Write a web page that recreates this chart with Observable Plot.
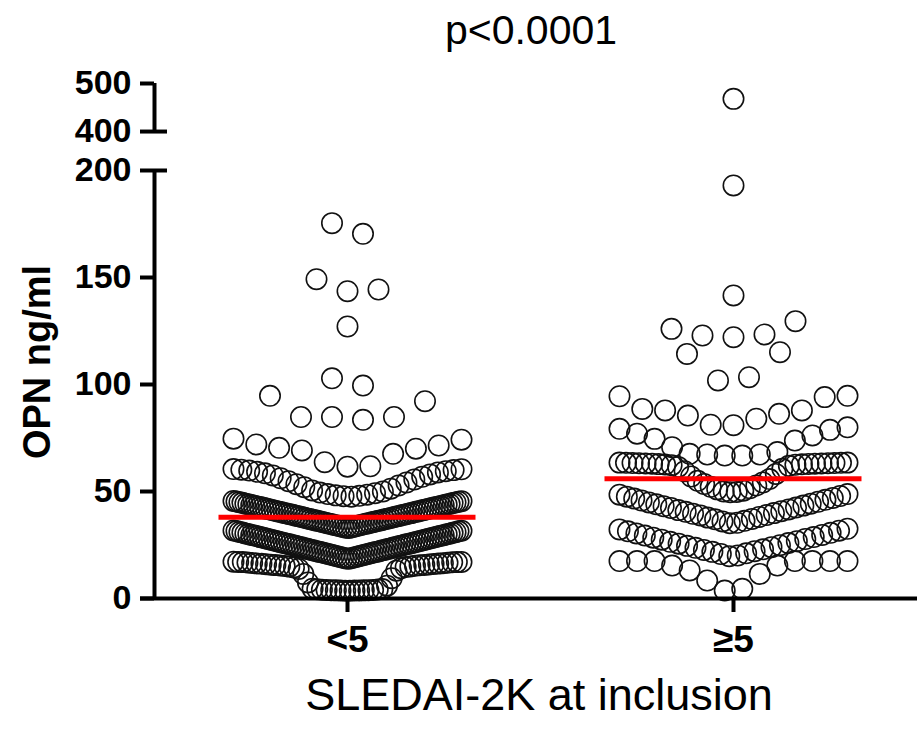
<!DOCTYPE html>
<html>
<head>
<meta charset="utf-8">
<script src="https://cdn.jsdelivr.net/npm/d3@7"></script>
<script src="https://cdn.jsdelivr.net/npm/@observablehq/plot@0.6"></script>
<style>
  html, body { margin: 0; padding: 0; background: #fff; }
</style>
</head>
<body>
<div id="chart"></div>
<script>
// ---------------- data ----------------
const groups = ["<5", "\u22655"];

// OPN ng/ml, SLEDAI-2K < 5
const lowSledai = [
  175.4, 170.4, 149.2, 144.4, 143.6, 127.1, 102.9, 99.5, 94.7, 92.2, 84.8, 84.8, 84.8, 83.5,
  74.7, 74.2, 72.0, 71.5, 70.4, 70.0, 69.2, 67.6, 63.7, 61.8, 61.6,
  60.5, 60.4, 60.2, 60.0, 59.8, 59.5, 59.2, 58.9, 58.5, 58.0, 57.5, 56.9, 56.2, 55.6, 54.8,
  54.2, 53.4, 52.8, 52.0, 51.3, 50.5, 50.0, 49.5, 49.2, 48.8, 48.5, 48.2, 48.0, 47.8, 47.6,
  33.0, 33.1, 33.3, 33.4, 33.7, 33.8, 34.0, 34.1, 34.3, 34.4, 34.7, 34.8, 35.0, 35.1,
  35.3, 35.4, 35.7, 35.8, 36.0, 36.1, 36.3, 36.4, 36.6, 36.7, 37.0, 37.1, 37.3, 37.4,
  37.6, 37.7, 38.0, 38.1, 38.3, 38.4, 38.6, 38.7, 39.0, 39.1, 39.3, 39.4, 39.6, 39.7,
  39.9, 40.0, 40.3, 40.4, 40.6, 40.7, 40.9, 41.0, 41.3, 41.4, 41.6, 41.7, 41.9, 42.0,
  42.3, 42.4, 42.6, 42.7, 42.9, 43.0, 43.2, 43.3, 43.6, 43.7, 43.9, 44.0, 44.2, 44.3,
  44.6, 44.7, 44.9, 45.0, 45.2, 45.3, 45.5, 45.6,
  18.6, 18.7, 18.9, 19.0, 19.3, 19.4, 19.6, 19.7, 20.0, 20.1, 20.3, 20.4, 20.7, 20.8,
  21.0, 21.1, 21.4, 21.5, 21.7, 21.8, 22.0, 22.1, 22.4, 22.5, 22.7, 22.8, 23.1, 23.2,
  23.4, 23.5, 23.8, 23.9, 24.1, 24.2, 24.5, 24.6, 24.8, 24.9, 25.2, 25.3, 25.5, 25.6,
  25.8, 25.9, 26.2, 26.3, 26.5, 26.6, 26.9, 27.0, 27.2, 27.3, 27.6, 27.7, 27.9, 28.0,
  28.3, 28.4, 28.6, 28.7, 29.0, 29.1, 29.3, 29.4, 29.6, 29.7, 30.0, 30.1, 30.3, 30.4,
  30.7, 30.8, 31.0, 31.1, 31.4, 31.5, 31.7, 31.8,
  17.2, 17.1, 17.1, 17.0, 17.0, 16.9, 16.8, 16.7, 16.6, 16.5, 16.4, 16.3, 16.2, 16.1, 16.0, 15.9,
  15.8, 15.7, 15.6, 15.5, 15.4, 15.3, 15.2, 15.0, 14.9, 14.7, 14.5, 14.2, 13.8, 13.0, 11.5, 9.5,
  7.5, 6.0, 4.6, 4.4, 4.3, 4.2, 4.1, 4.0, 4.0, 3.9, 3.9, 3.8, 3.8, 3.7, 3.7, 3.7, 3.6, 3.6
];

// OPN ng/ml, SLEDAI-2K >= 5
const highSledai = [
  468, 193, 141.6, 129.6, 126.0, 123.4, 122.9, 122.1, 115.1, 114.3, 103.4, 101.9,
  94.7, 94.5, 94.1, 88.6, 87.9, 87.9, 86.3, 85.5, 84.0, 81.2, 81.0,
  80.0, 79.3, 78.8, 77.0, 76.2, 74.6, 73.8, 70.7, 68.4, 67.6, 67.3, 67.3, 66.8, 66.8,
  63.5, 63.5, 63.4, 63.4, 63.3, 63.3, 63.2, 63.2, 63.1, 63.1, 63.0, 63.0, 62.9, 62.8, 62.7, 62.6,
  62.5, 62.3, 62.0, 61.5, 60.6, 59.5, 58.2, 57.0, 55.8, 55.0, 54.2, 53.5, 52.8, 52.2, 51.5, 51.0,
  50.4, 50.0, 49.8, 49.7,
  48.8, 48.5, 47.9, 47.6, 47.0, 46.7, 46.1, 45.8, 45.2, 44.9, 44.3, 44.0, 43.4, 43.1, 42.5, 42.3,
  41.6, 41.3, 40.8, 40.5, 39.9, 39.6, 39.0, 38.8, 38.1, 37.8, 37.2, 37.0, 36.3, 36.0, 35.4, 35.2,
  32.6, 32.3, 31.7, 31.4, 30.7, 30.4, 29.7, 29.4, 28.7, 28.4, 27.8, 27.5, 26.8, 26.5, 25.9, 25.6,
  24.9, 24.6, 24.0, 23.7, 23.0, 22.7, 22.1, 21.8, 21.1, 20.8, 20.1, 19.8,
  17.5, 17.5, 17.5, 17.5, 17.5, 17.5, 17.5, 15.4, 15.4, 13.1, 11.5, 8.4, 4.5, 3.7
];

// median (red line) of each group
const medians = [38, 56];

// y-axis ticks (broken axis 200 -> 400)
const yTickValues = [0, 50, 100, 150, 200, 400, 500];

const titleText = "p<0.0001";
const yLabel = "OPN ng/ml";
const xLabel = "SLEDAI-2K at inclusion";

// ---------------- broken-axis transform ----------------
const BREAK_LOW = 200, BREAK_HIGH = 400;
const GAP = 18.2;          // gap between 200 and 400, in lower-segment units
const UPPER_K = 0.2245;    // compression of upper segment
const tf = v => v <= BREAK_LOW ? v : BREAK_LOW + GAP + (v - BREAK_HIGH) * UPPER_K;
const yTop = tf(500);

// ---------------- layout (GraphPad-style column scatter) ----------------
const W = 917, H = 730;
const mLeft = 154, mRight = 0, mTop = 83, mBottom = 132;
const xDomain = [-0.5, 1.4767];
const pxPerX = (W - mLeft - mRight) / (xDomain[1] - xDomain[0]);
const ROW_H = 14;      // value span grouped into one row
const ROW_W = 228;     // max spread of a row, px
const MAX_STEP = 31;   // max horizontal step, px

function scatterLayout(values, gi, firstSide) {
  const sorted = values.map(v => ({v, ty: tf(v)})).sort((a, b) => a.ty - b.ty);
  const rows = [];
  let cur = null;
  for (const d of sorted) {
    if (!cur || d.ty - cur.start >= ROW_H) { cur = {start: d.ty, pts: []}; rows.push(cur); }
    cur.pts.push(d);
  }
  const out = [];
  for (const r of rows) {
    const n = r.pts.length;
    const s = n > 1 ? Math.min(MAX_STEP, ROW_W / (n - 1)) : 0;
    r.pts.forEach((d, k) => {
      let slot;
      if (n % 2) slot = k === 0 ? 0 : Math.ceil(k / 2) * (k % 2 ? firstSide : -firstSide);
      else slot = (Math.floor(k / 2) + 0.5) * (k % 2 ? -firstSide : firstSide);
      out.push({group: groups[gi], value: d.v, y: d.ty, x: gi + slot * s / pxPerX});
    });
  }
  return out;
}

const points = [
  ...scatterLayout(lowSledai, 0, 1),
  ...scatterLayout(highSledai, 1, -1)
];

const medianRows = medians.map((m, i) => ({i, m}));
const halfLine = 128.5 / pxPerX;
const axisSegments = [{y1: 0, y2: tf(BREAK_LOW)}, {y1: tf(BREAK_HIGH), y2: tf(500)}];
const tickLabel = new Map(yTickValues.map(v => [tf(v), String(v)]));

const font = "'Liberation Sans', Arial, Helvetica, sans-serif";

const chart = Plot.plot({
  width: W, height: H,
  marginLeft: mLeft, marginRight: mRight, marginTop: mTop, marginBottom: mBottom,
  style: {fontFamily: font, background: "#fff", color: "#000"},
  x: {domain: xDomain},
  y: {domain: [0, yTop]},
  marks: [
    Plot.dot(points, {x: "x", y: "y", r: 10.2, stroke: "#111", strokeWidth: 1.6, fill: "none"}),
    Plot.ruleY(medianRows, {y: "m", x1: d => d.i - halfLine, x2: d => d.i + halfLine, stroke: "#ff0000", strokeWidth: 5}),
    // axis lines
    Plot.ruleX(axisSegments, {x: xDomain[0], y1: "y1", y2: "y2", stroke: "#000", strokeWidth: 4}),
    Plot.ruleY([0], {x1: xDomain[0] - 14 / pxPerX, x2: xDomain[1], stroke: "#000", strokeWidth: 4}),
    // break marks to the right of the axis
    Plot.ruleY([tf(BREAK_LOW), tf(BREAK_HIGH)], {x1: xDomain[0], x2: xDomain[0] + 13 / pxPerX, stroke: "#000", strokeWidth: 4}),
    Plot.axisY({ticks: yTickValues.map(tf), tickFormat: d => tickLabel.get(d), tickSize: 14, tickPadding: 9,
      strokeWidth: 4, fontSize: 34, fontWeight: "bold", fontFamily: font, label: null}),
    Plot.axisX({ticks: [0, 1], tickFormat: i => groups[i], tickSize: 14, tickPadding: 13,
      strokeWidth: 4, fontSize: 37, fontWeight: "bold", fontFamily: font, label: null}),
    Plot.text([titleText], {frameAnchor: "top", dx: -5, dy: -40, lineAnchor: "bottom", fontSize: 41, fontFamily: font, fill: "#000"}),
    Plot.text([xLabel], {frameAnchor: "bottom", dx: 3, dy: 111, lineAnchor: "bottom", fontSize: 45, fontFamily: font, fill: "#000"}),
    Plot.text([yLabel], {frameAnchor: "left", dx: -105, dy: 21, rotate: -90, textAnchor: "middle", lineAnchor: "bottom", fontSize: 38, fontWeight: "bold", fontFamily: font, fill: "#000"})
  ]
});
document.getElementById("chart").appendChild(chart);
</script>
</body>
</html>
